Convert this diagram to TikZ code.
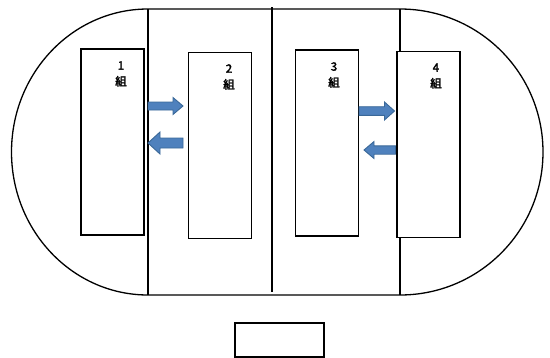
\documentclass[tikz,border=0pt]{standalone}
\usepackage{fontspec}
\newfontfamily\cjk{Noto Sans CJK JP}[FakeBold=2.5]
\definecolor{arrfill}{HTML}{4F81BD}
\definecolor{arrdraw}{HTML}{3A6898}
\begin{document}
\begin{tikzpicture}[x=1pt,y=-1pt,
  outline/.style={line width=1.3pt,black},
  box/.style={draw,line width=1.6pt,minimum width=63pt,minimum height=186pt,anchor=north west,inner sep=0pt},
  lbl/.style={font=\cjk\fontsize{11.5}{16}\selectfont,align=center,inner sep=0pt},
  blockarr/.style={fill=arrfill,draw=arrdraw,line width=0.9pt,line join=miter}]
\useasboundingbox (0,0) rectangle (550,357);
% stadium outline
\draw[outline] (148,9) -- (400,9)
  arc[start angle=-90,end angle=90,x radius=143,y radius=143] -- (148,295)
  arc[start angle=90,end angle=270,x radius=136.5,y radius=143] -- cycle;
\coordinate (t1) at (148,9); \coordinate (b1) at (148,295);
\coordinate (t2) at (272,7); \coordinate (b2) at (272,292);
\coordinate (t3) at (400,9); \coordinate (b3) at (400,295);
\draw[outline] (t1) -- (b1);
\draw[outline] (t2) -- (b2);
\draw[outline] (t3) -- (b3);
% boxes
\node[box,fill=white] (k1) at (80,48) {};
\node[box,fill=white] (k2) at (187.5,51.5) {};
\node[box,fill=white] (k3) at (294.5,49) {};
\node[box,fill=white] (k4) at (396,50.5) {};
\node[draw,line width=1.6pt,minimum width=89pt,minimum height=34pt,anchor=north west,inner sep=0pt] (k5) at (234,322) {};
% labels
\node[lbl] (l1) at (121,74) {1\\組};
\node[lbl] (l2) at (229,77) {2\\組};
\node[lbl] (l3) at (334,75) {3\\組};
\node[lbl] (l4) at (436,76) {4\\組};
% block arrows
\draw[blockarr] (148,102) -- (173,102) -- (173,97.5) -- (183,106) -- (173,114.5) -- (173,110) -- (148,110) -- cycle;
\draw[blockarr] (183,138) -- (160,138) -- (160,132) -- (148,143) -- (160,154) -- (160,148) -- (183,148) -- cycle;
\draw[blockarr] (359,106.7) -- (384.5,106.7) -- (384.5,102) -- (394.5,111) -- (384.5,120) -- (384.5,115.3) -- (359,115.3) -- cycle;
\draw[blockarr] (395.5,145.8) -- (374,145.8) -- (374,141.5) -- (364,150) -- (374,158.5) -- (374,154.2) -- (395.5,154.2) -- cycle;
\end{tikzpicture}
\end{document}
